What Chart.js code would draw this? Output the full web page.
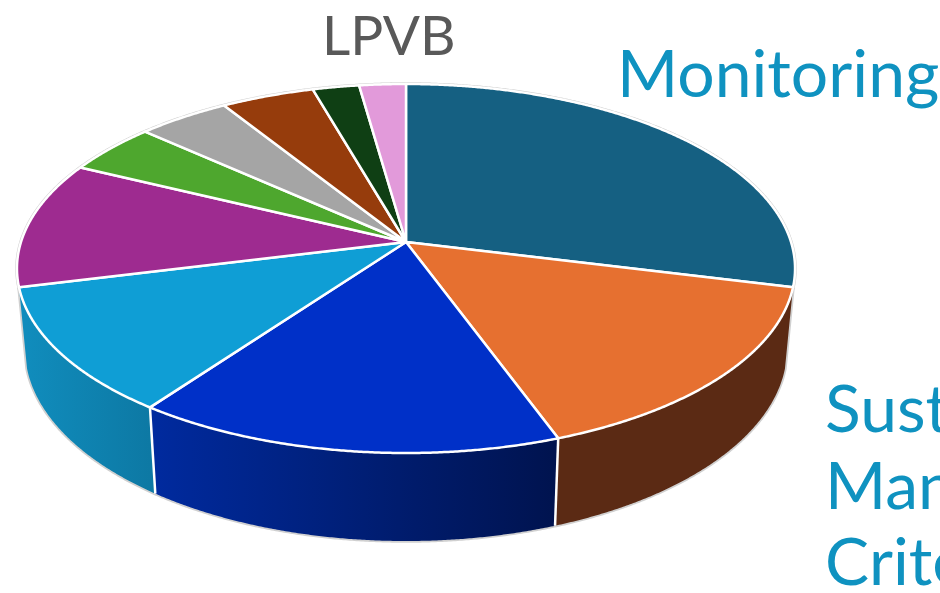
<!DOCTYPE html>
<html>
<head>
<meta charset="utf-8">
<title>Pie</title>
<script src="https://cdn.jsdelivr.net/npm/chart.js@4"></script>
<style>
  html, body { margin: 0; padding: 0; background: #fff; overflow: hidden; }
  #pie { display: block; }
</style>
</head>
<body>
<canvas id="pie" width="940" height="593"></canvas>
<script>
const categories = ['Monitoring', 'Sustainable Management Criteria', '', '', '', '', '', '', '', 'LPVB'];
const counts = [13, 7, 7, 5, 5, 2, 2, 2, 1, 1];
const topColors = ['#156082', '#e67030', '#0030c8', '#0f9ed5', '#9e2b90', '#4ea72e', '#a5a5a5', '#963c0c', '#0f3f14', '#e29ada'];
const sideLeft = [null, '#5b2a14', '#002a9e', '#108cbc', null, null, null, null, null, null];
const sideRight = [null, '#5b2a14', '#00134f', '#0d78a3', null, null, null, null, null, null];

// the top and bottom faces are circles seen in perspective
const TOP = { x: 406, y: 242, rx: 385, ry: 180.7, k: -0.1436 };
const BOTTOM = { x: 406, y: 321.5, rx: 377, ry: 188, k: -0.1436 };

function project(face, angle) {
  const u = Math.cos(angle), v = Math.sin(angle);
  const w = 1 + face.k * v;
  return [face.x + face.rx * u / w, face.y + face.ry * v / w];
}

function traceArc(ctx, face, from, to) {
  const steps = Math.max(2, Math.ceil(Math.abs(to - from) / 0.005));
  for (let i = 0; i <= steps; i++) {
    const p = project(face, from + (to - from) * i / steps);
    ctx.lineTo(p[0], p[1]);
  }
}

const perspectivePie = {
  id: 'perspectivePie',
  beforeDatasetsDraw(chart) {
    const ctx = chart.ctx;
    const arcs = chart.getDatasetMeta(0).data;
    ctx.save();
    ctx.lineJoin = 'round';

    // thin grey rim round the whole shape
    const walls = arcs.filter((arc, i) => sideLeft[i]);
    const wallFrom = walls[0].startAngle;
    const wallTo = walls[walls.length - 1].endAngle;
    ctx.strokeStyle = '#d0d0d0';
    ctx.lineWidth = 3.5;
    ctx.beginPath();
    traceArc(ctx, TOP, 0, Math.PI * 2);
    ctx.stroke();
    ctx.beginPath();
    traceArc(ctx, TOP, wallFrom, wallFrom);
    traceArc(ctx, BOTTOM, wallFrom, wallTo);
    traceArc(ctx, TOP, wallTo, wallTo);
    ctx.stroke();

    // side walls
    arcs.forEach((arc, i) => {
      if (!sideLeft[i]) return;
      const pa = project(BOTTOM, arc.endAngle);
      const pb = project(BOTTOM, arc.startAngle);
      const grad = ctx.createLinearGradient(pa[0], 0, pb[0], 0);
      grad.addColorStop(0, sideLeft[i]);
      grad.addColorStop(1, sideRight[i]);
      ctx.beginPath();
      traceArc(ctx, TOP, arc.startAngle, arc.endAngle);
      traceArc(ctx, BOTTOM, arc.endAngle, arc.startAngle);
      ctx.closePath();
      ctx.fillStyle = grad;
      ctx.fill();
    });

    // white seams between the walls
    ctx.strokeStyle = '#ffffff';
    ctx.lineWidth = 2.5;
    arcs.forEach((arc, i) => {
      if (!sideLeft[i] || !sideLeft[i - 1]) return;
      const a = project(TOP, arc.startAngle);
      const b = project(BOTTOM, arc.startAngle);
      ctx.beginPath();
      ctx.moveTo(a[0], a[1]);
      ctx.lineTo(b[0], b[1]);
      ctx.stroke();
    });

    // top face
    arcs.forEach((arc, i) => {
      ctx.beginPath();
      ctx.moveTo(TOP.x, TOP.y);
      traceArc(ctx, TOP, arc.startAngle, arc.endAngle);
      ctx.closePath();
      ctx.fillStyle = topColors[i];
      ctx.fill();
      ctx.strokeStyle = '#ffffff';
      ctx.lineWidth = 2.5;
      ctx.stroke();
    });
    ctx.restore();
    return false; // the library's flat arcs are replaced by the projected ones
  },
  afterDraw(chart) {
    const ctx = chart.ctx;
    ctx.save();
    ctx.textBaseline = 'alphabetic';
    ctx.font = '400 55px Lato';
    ctx.fillStyle = '#595959';
    ctx.fillText(categories[9], 322, 55);
    ctx.font = '400 66px Lato';
    ctx.fillStyle = '#0f92c0';
    ctx.fillText(categories[0], 617, 97);
    const words = categories[1].split(' ');
    words.forEach((w, i) => ctx.fillText(w, 825, 432 + i * 76.5));
    ctx.restore();
  },
};

new Chart(document.getElementById('pie').getContext('2d'), {
  type: 'pie',
  data: {
    labels: categories,
    datasets: [{ data: counts, backgroundColor: topColors, borderColor: '#ffffff', borderWidth: 2 }],
  },
  options: {
    responsive: false,
    animation: false,
    plugins: { legend: { display: false }, tooltip: { enabled: false } },
  },
  plugins: [perspectivePie],
});
</script>
</body>
</html>
